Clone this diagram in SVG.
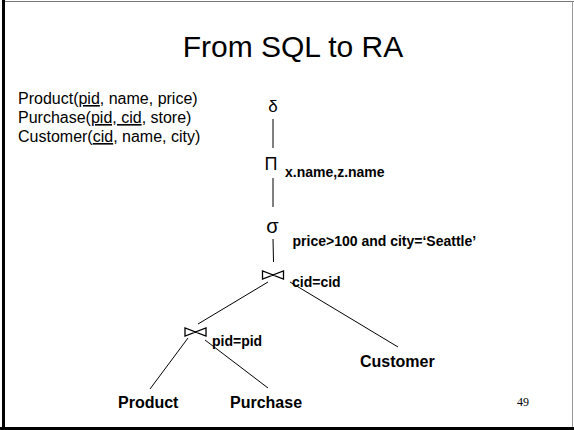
<svg xmlns="http://www.w3.org/2000/svg" width="574" height="430" viewBox="0 0 574 430">
<style>
.t{font-family:"Liberation Sans",Arial,sans-serif;fill:#000}
.b{font-family:"Liberation Sans",Arial,sans-serif;font-weight:bold;fill:#000}
.ln{stroke:#000;stroke-width:1;fill:none}
.bt{stroke:#000;stroke-width:1.3;fill:#fff;stroke-linejoin:miter}
</style>
<defs>
<path id="bowtie" d="M-10.5,-4 L-10.5,4 L0,0 Z M10.5,-4 L10.5,4 L0,0 Z"/>
</defs>
<rect x="0" y="0" width="574" height="430" fill="#fff"/>
<g id="border">
<line x1="2" y1="1.5" x2="574" y2="1.5" stroke="#777" stroke-width="1"/>
<line x1="572.5" y1="1" x2="572.5" y2="430" stroke="#999" stroke-width="1"/>
<line x1="3.5" y1="0" x2="3.5" y2="430" stroke="#000" stroke-width="3"/>
<line x1="0" y1="428.5" x2="574" y2="428.5" stroke="#000" stroke-width="3"/>
</g>
<text id="title" class="t" x="293" y="57" font-size="30" text-anchor="middle">From SQL to RA</text>
<g id="schema" class="t" font-size="16">
<text x="18" y="104">Product(<tspan text-decoration="underline">pid</tspan>, name, price)</text>
<text x="18" y="123">Purchase(<tspan text-decoration="underline">pid, cid</tspan>, store)</text>
<text x="18" y="142">Customer(<tspan text-decoration="underline">cid</tspan>, name, city)</text>
</g>
<g id="connectors" class="ln">
<line x1="273" y1="119" x2="273" y2="148"/>
<line x1="273" y1="178" x2="273" y2="207"/>
<line x1="273" y1="239" x2="273.5" y2="262"/>
<line x1="268" y1="282" x2="198" y2="324"/>
<line x1="290" y1="282" x2="398" y2="347"/>
<line x1="188" y1="338" x2="150" y2="389"/>
<line x1="205" y1="340" x2="268" y2="388"/>
</g>
<g id="delta"><text class="t" x="273" y="112" font-size="17" text-anchor="middle">δ</text></g>
<g id="project"><text class="t" x="271" y="170" font-size="18" text-anchor="middle">Π</text>
<text class="b" x="285" y="177" font-size="14">x.name,z.name</text></g>
<g id="select"><text class="t" x="272.5" y="233" font-size="20" text-anchor="middle">σ</text>
<text class="b" x="292.5" y="246" font-size="14">price&gt;100 and city=‘Seattle’</text></g>
<g id="join1"><use href="#bowtie" class="bt" transform="translate(273,275)"/>
<text class="b" x="292" y="287" font-size="14">cid=cid</text></g>
<g id="join2"><use href="#bowtie" class="bt" transform="translate(195.5,332)"/>
<text class="b" x="212" y="346" font-size="14">pid=pid</text></g>
<g id="product"><text class="b" x="118" y="408" font-size="16">Product</text></g>
<g id="purchase"><text class="b" x="230" y="408" font-size="16">Purchase</text></g>
<g id="customer"><text class="b" x="360" y="367" font-size="16">Customer</text></g>
<text id="pagenum" x="517" y="406" font-family="'Liberation Serif','Times New Roman',serif" font-size="12">49</text>
</svg>
